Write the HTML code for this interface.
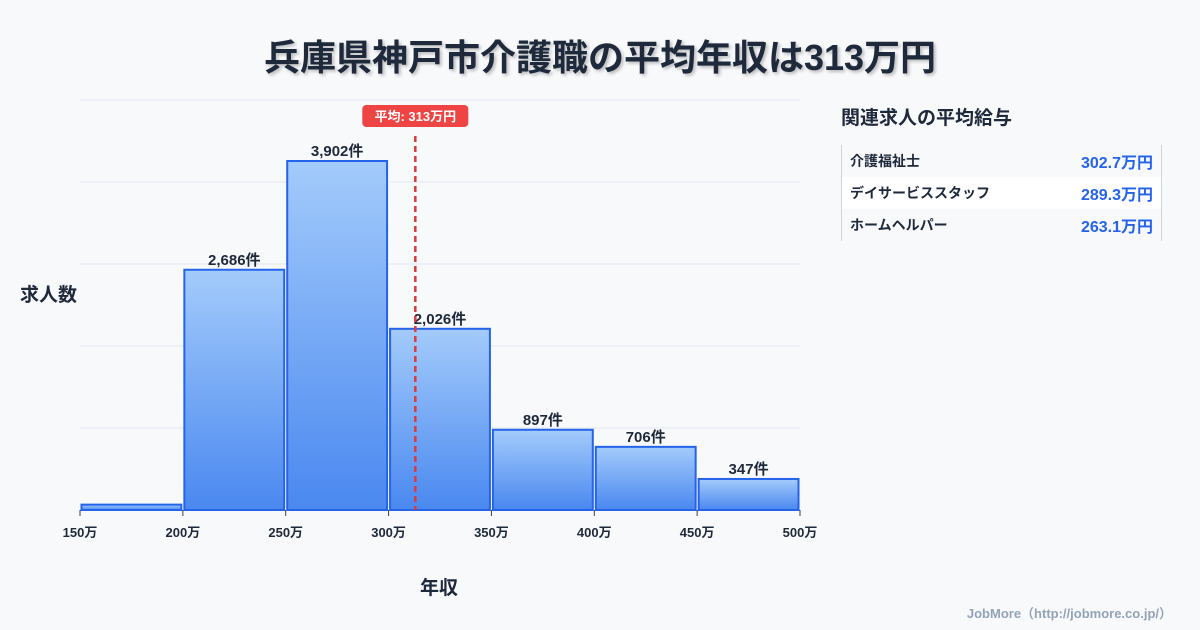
<!DOCTYPE html>
<html><head><meta charset="utf-8"><style>
body{margin:0;background:#f8f9fb;font-family:"Liberation Sans","Noto Sans CJK JP",sans-serif;}
#wrap{position:relative;width:1200px;height:630px;overflow:hidden;}
.t{position:absolute;white-space:nowrap;}
</style></head><body>
<div id="wrap">
<div class="t" style="left:0;width:1200px;text-align:center;top:29px;font-size:36px;font-weight:bold;color:#1e293b;text-shadow:2px 2px 3px rgba(0,0,0,0.25);">兵庫県神戸市介護職の平均年収は313万円</div>
<svg id="chart" width="1200" height="630" style="position:absolute;left:0;top:0">
<defs><linearGradient id="g" x1="0" y1="0" x2="0" y2="1"><stop offset="0" stop-color="#a3cbfb"/><stop offset="1" stop-color="#4a88f0"/></linearGradient></defs>
</svg>
<div class="t" style="left:20px;top:280px;font-size:19px;font-weight:bold;color:#1e293b;">求人数</div>
<div class="t" style="left:420px;top:573px;font-size:19px;font-weight:bold;color:#1e293b;">年収</div>
<div class="t" style="left:841px;top:103px;font-size:19px;font-weight:bold;color:#1e293b;">関連求人の平均給与</div>
<div style="position:absolute;left:841px;top:145px;width:319px;border-left:1px solid #cbd5e1;border-right:1px solid #cbd5e1;font-size:14px;font-weight:bold;">
<div style="height:32px;display:flex;justify-content:space-between;align-items:center;padding:0 8px;background:#f8f9fb;"><span style="color:#1e293b">介護福祉士</span><span style="color:#2563eb;font-size:16px">302.7万円</span></div>
<div style="height:32px;display:flex;justify-content:space-between;align-items:center;padding:0 8px;background:#fff;"><span style="color:#1e293b">デイサービススタッフ</span><span style="color:#2563eb;font-size:16px">289.3万円</span></div>
<div style="height:32px;display:flex;justify-content:space-between;align-items:center;padding:0 8px;background:#f8f9fb;"><span style="color:#1e293b">ホームヘルパー</span><span style="color:#2563eb;font-size:16px">263.1万円</span></div>
</div>
<div class="t" style="right:28px;top:603px;font-size:13px;font-weight:bold;color:#94a3b8;">JobMore（http://jobmore.co.jp/）</div>
</div>
<script>
const binStarts=[150,200,250,300,350,400,450];
const counts=[60,2686,3902,2026,897,706,347];
const labels=["","2,686件","3,902件","2,026件","897件","706件","347件"];
const ticks=[150,200,250,300,350,400,450,500];
const meanVal=313;
const svg=document.getElementById('chart');const NS='http://www.w3.org/2000/svg';
const X0=80,X1=800,Y0=510,Y1=100,xmin=150,xmax=500,ymax=4584;
const x=v=>X0+(v-xmin)/(xmax-xmin)*(X1-X0);
const y=v=>Y0-v/ymax*(Y0-Y1);
function mk(t,a){const e=document.createElementNS(NS,t);for(const k in a)e.setAttribute(k,a[k]);svg.appendChild(e);return e;}
for(let i=0;i<=5;i++){const gy=Y0-i*(Y0-Y1)/5;const l=mk('line',{x1:X0,x2:X1,y1:gy,y2:gy,stroke:'#e2e8f0','stroke-width':1});

}
binStarts.forEach((b,i)=>{const xa=x(b)+1.5,xb=x(b+50)-1.5,yt=y(counts[i]);
const r=mk('rect',{x:xa,y:yt,width:xb-xa,height:Y0-yt,fill:'url(#g)',stroke:'#2563eb','stroke-width':2});


if(labels[i]){const t=mk('text',{x:(xa+xb)/2,y:yt-5,'text-anchor':'middle','font-size':15,'font-weight':'bold',fill:'#1e293b'});t.textContent=labels[i];

}});
ticks.forEach(v=>{const l=mk('line',{x1:x(v),x2:x(v),y1:Y0,y2:Y0+6,stroke:'#334155','stroke-width':1});


const t=mk('text',{x:x(v),y:Y0+27,'text-anchor':'middle','font-size':13,'font-weight':'bold',fill:'#1e293b'});t.textContent=v+'万';

});
const mx=x(meanVal);
const ml=mk('line',{x1:mx,x2:mx,y1:136,y2:Y0,stroke:'#dc3b3b','stroke-width':2.5,'stroke-dasharray':'6,4'});


const mb=mk('rect',{x:mx-53,y:105,width:106,height:22,rx:4,fill:'#ef4444'});


const mt=mk('text',{x:mx,y:121,'text-anchor':'middle','font-size':13,'font-weight':'bold',fill:'#fff'});mt.textContent='平均: '+meanVal+'万円';


</script>
</body></html>
